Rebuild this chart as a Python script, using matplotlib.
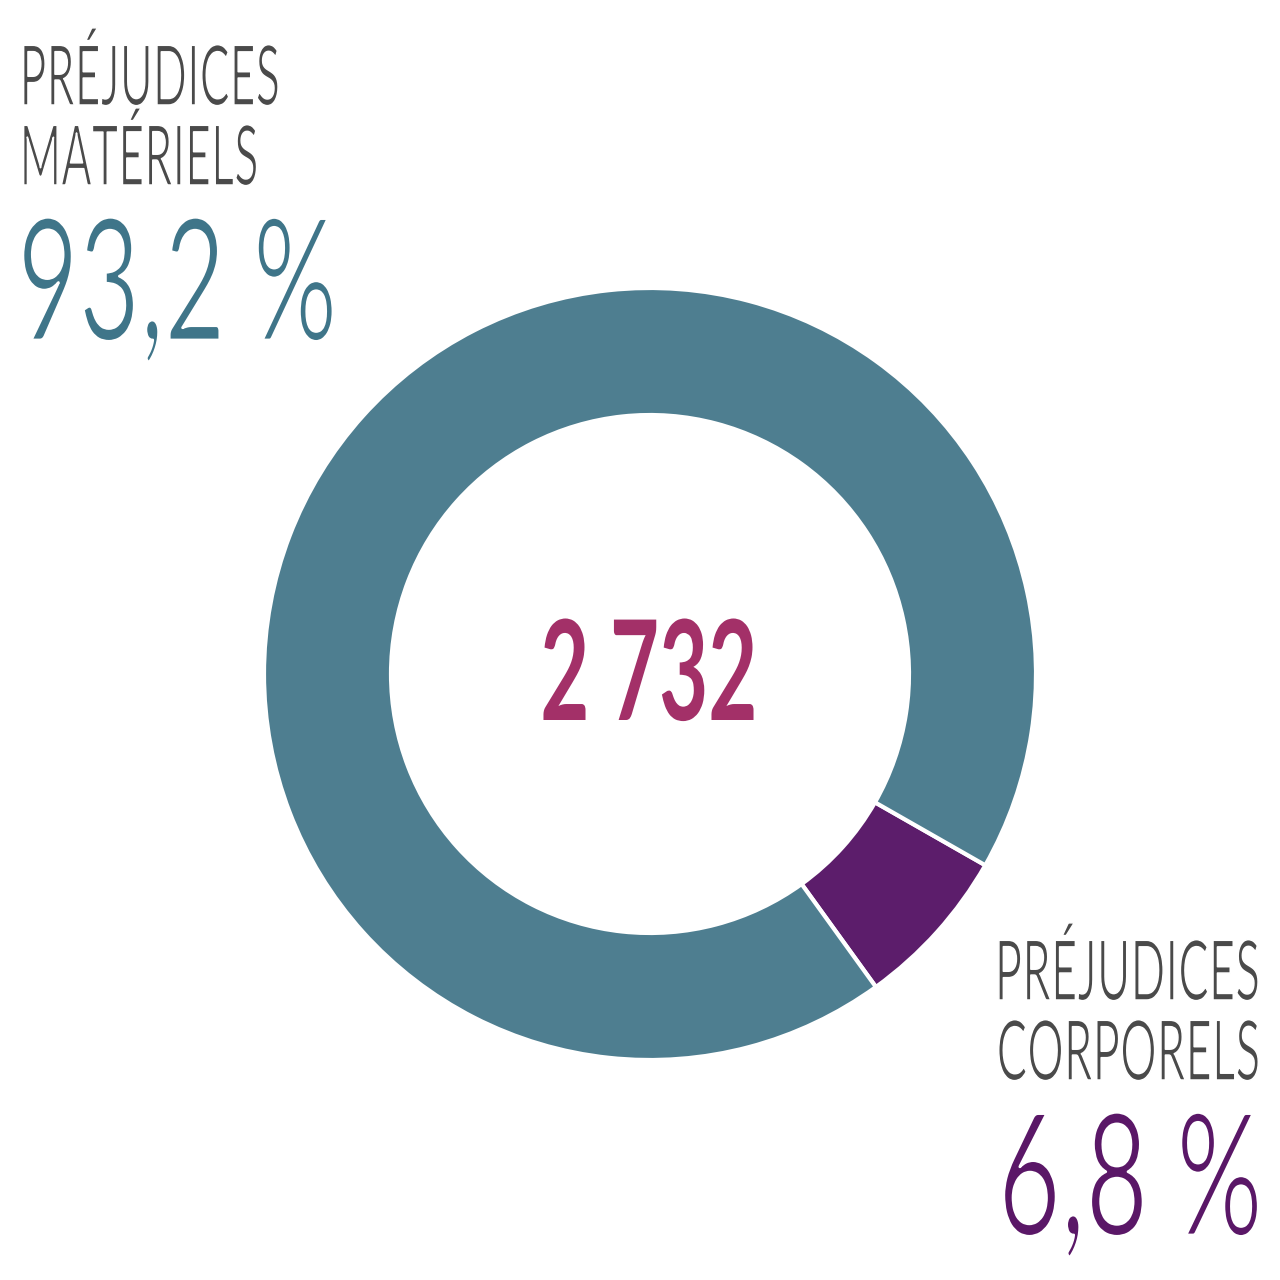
import matplotlib
matplotlib.use("Agg")
import matplotlib.pyplot as plt
from matplotlib import patheffects
from matplotlib.transforms import Affine2D

# data
shares = [6.8, 93.2]          # corporels, matériels
slice_colors = ["#5c1d6b", "#4e7e90"]
total_label = "2 732"
label_mat = ["PRÉJUDICES", "MATÉRIELS"]
value_mat = "93,2 %"
label_corp = ["PRÉJUDICES", "CORPORELS"]
value_corp = "6,8 %"

W = H = 1280


class Squeeze(patheffects.AbstractPathEffect):
    """Narrow the glyphs horizontally around one edge of each line, optionally thinning them."""

    def __init__(self, sx=0.6, anchor="left", erode=0.0):
        super().__init__()
        self.sx = sx
        self.anchor = anchor
        self.erode = erode

    def draw_path(self, renderer, gc, tpath, affine, rgbFace=None):
        ext = tpath.get_extents()
        x0 = ext.x0 if self.anchor == "left" else ext.x1 if self.anchor == "right" else 0.5 * (ext.x0 + ext.x1)
        t = Affine2D().translate(-x0, 0).scale(self.sx, 1.0).translate(x0, 0) + affine
        renderer.draw_path(gc, tpath, t, rgbFace)
        if self.erode > 0:
            gc2 = renderer.new_gc()
            gc2.copy_properties(gc)
            gc2.set_linewidth(self.erode)
            gc2.set_foreground("white")
            renderer.draw_path(gc2, tpath, t, None)
            gc2.restore()


fig = plt.figure(figsize=(12.8, 12.8), dpi=100)
fig.patch.set_facecolor("white")
ax = fig.add_axes([0, 0, 1, 1])

cx, cy = 650, H - 674
outer_r, inner_r = 386, 259
start = -29.7 - shares[0] / 100 * 360
ax.pie(
    shares,
    colors=slice_colors,
    center=(cx, cy),
    radius=outer_r,
    startangle=start,
    counterclock=True,
    wedgeprops={"width": outer_r - inner_r, "edgecolor": "white", "linewidth": 3},
    frame=True,
)
ax.set_xlim(0, W)
ax.set_ylim(0, H)
ax.set_aspect("equal")
ax.axis("off")

font = ["Lato", "DejaVu Sans"]
gray = "#4a4a4a"


def px(x, y):
    return x / W, 1 - y / H


# top-left block
for i, line in enumerate(label_mat):
    fig.text(*px(16, 105 + 80 * i), line, fontsize=60, color=gray, family=font, weight="normal",
             ha="left", va="baseline", path_effects=[Squeeze(0.54, "left", 1.1)])
fig.text(*px(14, 340), value_mat, fontsize=122, color="#3f7589", family=font, weight="normal",
         ha="left", va="baseline", path_effects=[Squeeze(0.625, "left", 2.0)])

# bottom-right block
for i, line in enumerate(label_corp):
    fig.text(*px(1262, 1000 + 80 * i), line, fontsize=60, color=gray, family=font, weight="normal",
             ha="right", va="baseline", path_effects=[Squeeze(0.55, "right", 1.1)])
fig.text(*px(1266, 1235), value_corp, fontsize=122, color="#5a1767", family=font, weight="normal",
         ha="right", va="baseline", path_effects=[Squeeze(0.64, "right", 2.0)])

# centre total
fig.text(*px(649, 720), total_label, fontsize=100, color="#a33068", family=font, weight="bold",
         ha="center", va="baseline", path_effects=[Squeeze(0.61, "center")])

fig.savefig("out.png", dpi=100, facecolor="white")
